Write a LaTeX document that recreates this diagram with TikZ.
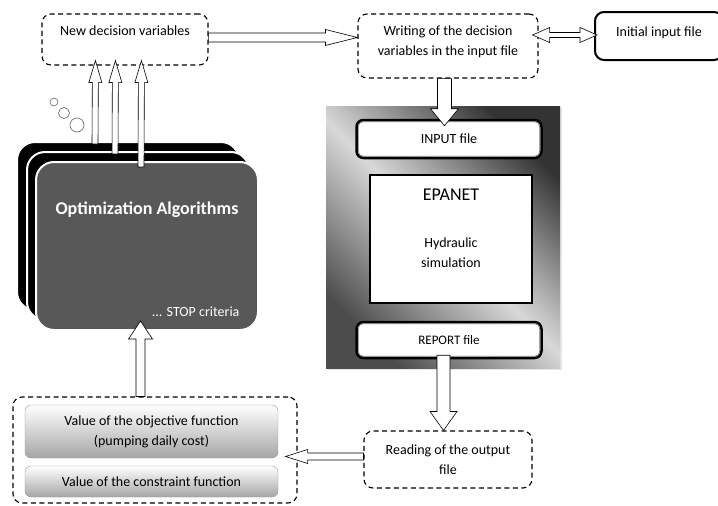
\documentclass[tikz,border=0pt]{standalone}
\usepackage{fontspec}
\setmainfont{Carlito}
\usetikzlibrary{calc,shadows}
\definecolor{optgray}{RGB}{88,88,88}
\tikzset{
  dashbox/.style={draw, line width=1.1pt, dash pattern=on 5pt off 3.5pt, rounded corners=9pt},
  filebox/.style={draw, fill=white, line width=2.5pt, rounded corners=7pt},
  innerframe/.style={draw=black!55, line width=0.6pt, rounded corners=5pt},
  valbox/.style={draw=black!40, rounded corners=6pt, top color=white, bottom color=black!35},
  optbox/.style={draw=white, line width=2pt, rounded corners=18pt, minimum width=222pt, minimum height=168pt},
  panel/.style={shading=axis, top color=black!80, bottom color=black!70, middle color=black!15, shading angle=-45,
    drop shadow={opacity=0.2, shadow xshift=2pt, shadow yshift=-2pt}},
  hollow/.style={draw, fill=white, line width=0.6pt, line join=miter},
  bubble/.style={draw=black!60, line width=0.6pt}
}
% start, end, shaft half width, head half width, head length
\newcommand{\fatarrow}[5]{%
  \coordinate (fa-s) at (#1);
  \coordinate (fa-e) at (#2);
  \coordinate (fa-n) at ($(fa-e)!#5!(fa-s)$);
  \draw[hollow] ($(fa-s)!#3!90:(fa-e)$) -- ($(fa-n)!#3!-90:(fa-s)$)
    -- ($(fa-n)!#4!-90:(fa-s)$) -- (fa-e) -- ($(fa-n)!#4!90:(fa-s)$)
    -- ($(fa-n)!#3!90:(fa-s)$) -- ($(fa-s)!#3!-90:(fa-e)$) -- cycle;
}
\newcommand{\fatdarrow}[5]{%
  \coordinate (fa-s) at (#1);
  \coordinate (fa-e) at (#2);
  \coordinate (fa-n) at ($(fa-e)!#5!(fa-s)$);
  \coordinate (fa-m) at ($(fa-s)!#5!(fa-e)$);
  \draw[hollow] (fa-s) -- ($(fa-m)!#4!90:(fa-e)$) -- ($(fa-m)!#3!90:(fa-e)$)
    -- ($(fa-n)!#3!-90:(fa-s)$) -- ($(fa-n)!#4!-90:(fa-s)$) -- (fa-e)
    -- ($(fa-n)!#4!90:(fa-s)$) -- ($(fa-n)!#3!90:(fa-s)$)
    -- ($(fa-m)!#3!-90:(fa-e)$) -- ($(fa-m)!#4!-90:(fa-e)$) -- cycle;
}
\begin{document}
\begin{tikzpicture}[x=1pt, y=1pt, font=\fontsize{14pt}{20pt}\selectfont]
\clip (0,0) rectangle (718,-506);
\node[dashbox, minimum width=166pt, minimum height=51pt,
  label={[anchor=north, yshift=-9pt]north:New decision variables}] (newvars) at (125,-39.5) {};
\node[dashbox, minimum width=180pt, minimum height=64pt,
  label={[anchor=north, align=center, yshift=-9pt]north:Writing of the decision\\variables in the input file}] (writing) at (448,-46) {};
\node[draw, line width=2pt, rounded corners=9pt, minimum width=128pt, minimum height=48pt,
  label={[anchor=north, yshift=-12pt]north:Initial input file}] (initfile) at (659,-36) {};
\node[panel, minimum width=234pt, minimum height=262pt] (panel) at (443,-237) {};
\node[filebox, minimum width=185pt, minimum height=38pt] (inputfile) at (449,-139) {INPUT file};
\draw[innerframe] ([shift={(3pt,3pt)}]inputfile.south west) rectangle ([shift={(-3pt,-3pt)}]inputfile.north east);
\node[draw, line width=1.5pt, fill=white, minimum width=162pt, minimum height=128pt,
  label={[anchor=north, yshift=-11pt, font=\fontsize{18pt}{20pt}\selectfont]north:EPANET},
  label={[align=center, yshift=-13.5pt]center:Hydraulic\\simulation}] (core) at (451,-239) {};
\node[filebox, minimum width=185pt, minimum height=36pt, font=\fontsize{13pt}{15pt}\selectfont] (reportfile) at (449,-340) {REPORT file};
\draw[innerframe] ([shift={(3pt,3pt)}]reportfile.south west) rectangle ([shift={(-3pt,-3pt)}]reportfile.north east);
\node[dashbox, minimum width=168pt, minimum height=57pt, align=center] (reading) at (448,-459.5) {Reading of the output\\file};
\node[dashbox, minimum width=284pt, minimum height=106pt] (values) at (155,-450) {};
\node[valbox, minimum width=253pt, minimum height=53pt, align=center] (objective) at (151.5,-431.5) {Value of the objective function\\(pumping daily cost)};
\node[valbox, minimum width=253pt, minimum height=31pt] (constraint) at (151.5,-481.5) {Value of the constraint function};
\node[optbox, fill=black] (optback) at (128,-226) {};
\node[optbox, fill=black] (optmid) at (138,-236) {};
\node[optbox, fill=optgray,
  label={[anchor=north, yshift=-37pt, text=white, font=\fontsize{18pt}{20pt}\bfseries]north:Optimization Algorithms},
  label={[anchor=south east, xshift=-16pt, yshift=11pt, text=white]south east:... STOP criteria}] (optfront) at (147,-246) {};
\draw[bubble] (54,-102) circle (4pt) (64,-113) circle (5.5pt) (77,-125) circle (7pt);
\fatarrow{[yshift=2pt]newvars.east}{[yshift=8.5pt]writing.west}{4.5pt}{8pt}{32pt}
\fatdarrow{[xshift=-6pt, yshift=11pt]writing.east}{[xshift=3pt, yshift=1pt]initfile.west}{2.5pt}{7.5pt}{17pt}
\fatarrow{[xshift=-3.5pt]writing.south}{[xshift=-4.5pt, yshift=-7pt]inputfile.north}{7pt}{14pt}{17pt}
\fatarrow{[xshift=-5.5pt, yshift=4pt]reportfile.south}{[xshift=-4.5pt]reading.north}{6.5pt}{13.5pt}{19pt}
\fatarrow{[yshift=3pt]reading.west}{[xshift=-12pt, yshift=-6.5pt]values.east}{3.5pt}{7pt}{22pt}
\fatarrow{[xshift=-14.5pt]values.north}{[xshift=-6.5pt, yshift=10pt]optfront.south}{4.5pt}{12pt}{18pt}
\fatarrow{[xshift=79pt, yshift=-3pt]optback.north west}{[xshift=54pt, yshift=5pt]newvars.south west}{3pt}{6.5pt}{22pt}
\fatarrow{[xshift=89pt, yshift=-3pt]optmid.north west}{[xshift=74pt, yshift=5pt]newvars.south west}{3pt}{6.5pt}{22pt}
\fatarrow{[xshift=106pt, yshift=-6pt]optfront.north west}{[xshift=100pt, yshift=5pt]newvars.south west}{3pt}{6.5pt}{22pt}
\end{tikzpicture}
\end{document}
